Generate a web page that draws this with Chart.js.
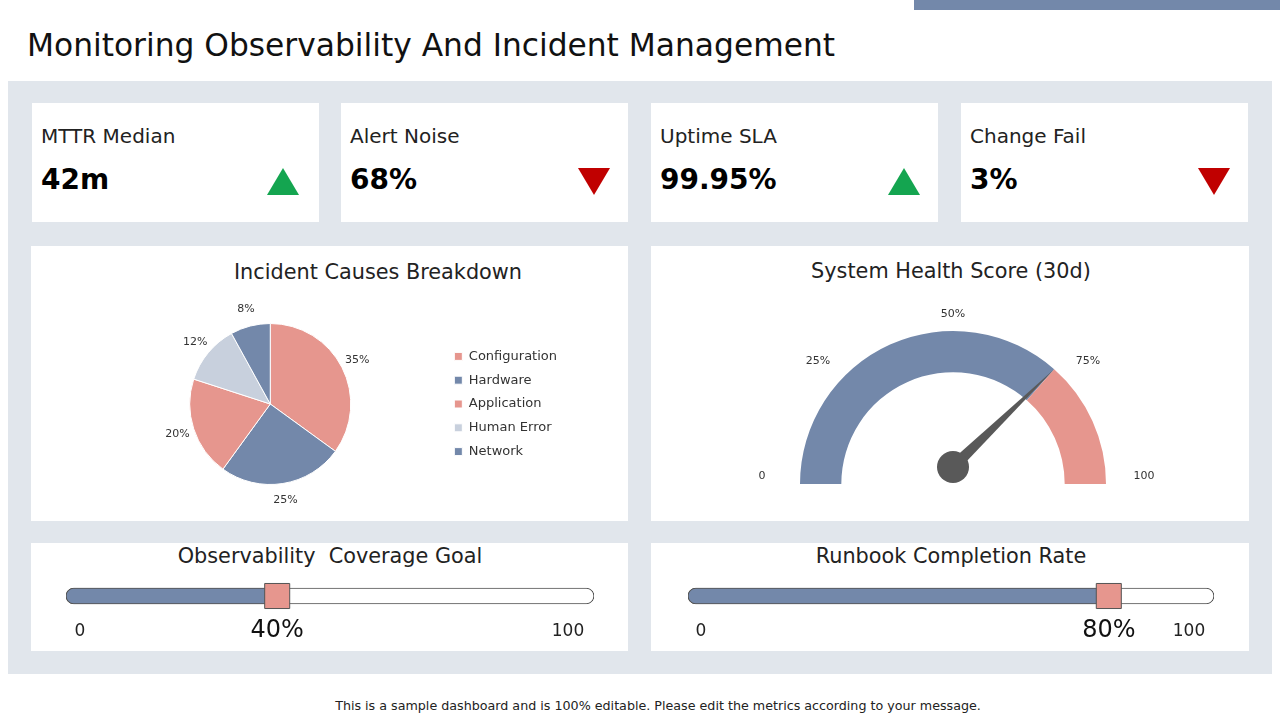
<!DOCTYPE html>
<html>
<head>
<meta charset="utf-8">
<script src="https://cdn.jsdelivr.net/npm/chart.js@4.4.0/dist/chart.umd.min.js"></script>
<style>
  body { margin: 0; width: 1280px; height: 720px; background: #fff; position: relative; overflow: hidden;
         font-family: "DejaVu Sans", sans-serif; color: #222; }
  .abs { position: absolute; }
  .panel { position: absolute; background: #fff; }
  .ptitle { position: absolute; font-size: 20.8px; line-height: 24px; white-space: nowrap; transform: translateX(-50%); color: #222; }
  .kl { position: absolute; font-size: 20px; line-height: 24px; white-space: nowrap; }
  .kv { position: absolute; font-size: 28px; line-height: 32px; font-weight: bold; color: #000; white-space: nowrap; }
  .tri { position: absolute; width: 32px; height: 27px; }
  .up { background: #14A550; clip-path: polygon(50% 0, 100% 100%, 0 100%); }
  .down { background: #C00000; clip-path: polygon(0 0, 100% 0, 50% 100%); }
  .end { position: absolute; font-size: 17px; line-height: 20px; transform: translateX(-50%); color: #222; }
</style>
</head>
<body>
<div class="abs" style="left:914px;top:0;width:366px;height:10px;background:#7388AA"></div>
<div class="abs" id="title" style="left:27px;top:26px;font-size:31.3px;line-height:38px;white-space:nowrap;color:#111">Monitoring Observability And Incident Management</div>
<div class="abs" style="left:8px;top:81px;width:1264px;height:593px;background:#E1E6EC"></div>

<div id="cards"></div>

<div class="panel" style="left:31px;top:246px;width:597px;height:275px"></div>
<div class="panel" style="left:651px;top:246px;width:598px;height:275px"></div>
<div class="panel" style="left:31px;top:543px;width:597px;height:108px"></div>
<div class="panel" style="left:651px;top:543px;width:598px;height:108px"></div>

<div class="ptitle" style="left:378px;top:260px">Incident Causes Breakdown</div>
<div class="ptitle" style="left:951px;top:259px">System Health Score (30d)</div>
<div class="ptitle" id="pt0" style="left:330px;top:544px"></div>
<div class="ptitle" id="pt1" style="left:951px;top:544px"></div>

<div class="abs" style="left:40px;top:291px;width:560px;height:226px"><canvas id="pie"></canvas></div>
<div class="abs" style="left:651px;top:290px;width:598px;height:231px"><canvas id="gauge"></canvas></div>
<div class="abs" style="left:56px;top:570px;width:548px;height:80px"><canvas id="prog0"></canvas></div>
<div class="abs" style="left:678px;top:570px;width:546px;height:80px"><canvas id="prog1"></canvas></div>

<div class="end" style="left:80px;top:620px">0</div>
<div class="end" style="left:568px;top:620px">100</div>
<div class="end" style="left:701px;top:620px">0</div>
<div class="end" style="left:1189px;top:620px">100</div>

<div class="abs" style="left:0;width:1280px;top:697px;text-align:center;font-size:12.7px;line-height:17px;color:#222;padding-left:36px;box-sizing:border-box">This is a sample dashboard and is 100% editable. Please edit the metrics according to your message.</div>

<script>
const kpiLabels = ["MTTR Median", "Alert Noise", "Uptime SLA", "Change Fail"];
const kpiValues = ["42m", "68%", "99.95%", "3%"];
const kpiTrend = ["up", "down", "up", "down"];

const causeLabels = ["Configuration", "Hardware", "Application", "Human Error", "Network"];
const causeShares = [35, 25, 20, 12, 8];

const healthScore = 73;
const gaugeTicks = ["0", "25%", "50%", "75%", "100"];

const progressTitles = ["Observability  Coverage Goal", "Runbook Completion Rate"];
const progressValues = [40, 80];

const blue = "#7388AA";
const pink = "#E6968E";
const light = "#C8D0DD";

Chart.defaults.font.family = "'DejaVu Sans', sans-serif";
Chart.defaults.animation = false;

// kpi cards
const cardLeft = [32, 341, 651, 961];
const cards = document.getElementById("cards");
kpiLabels.forEach((lab, i) => {
  const x = cardLeft[i];
  cards.innerHTML +=
    `<div class="panel" style="left:${x}px;top:103px;width:287px;height:119px"></div>` +
    `<div class="kl" style="left:${x + 9}px;top:124px">${lab}</div>` +
    `<div class="kv" style="left:${x + 9}px;top:164px">${kpiValues[i]}</div>` +
    `<div class="tri ${kpiTrend[i]}" style="left:${x + (i ? 237 : 235)}px;top:168px"></div>`;
});

// pie with outside labels
const pieLabels = {
  id: "pieLabels",
  afterDatasetsDraw(chart) {
    const ctx = chart.ctx;
    ctx.save();
    ctx.font = "11px 'DejaVu Sans'";
    ctx.fillStyle = "#333";
    ctx.textAlign = "center";
    ctx.textBaseline = "middle";
    chart.getDatasetMeta(0).data.forEach((arc, i) => {
      const p = arc.getProps(["x", "y", "startAngle", "endAngle", "outerRadius"], true);
      const a = (p.startAngle + p.endAngle) / 2;
      const r = p.outerRadius + 17;
      ctx.fillText(chart.data.datasets[0].data[i] + "%", p.x + Math.cos(a) * r, p.y + Math.sin(a) * r);
    });
    ctx.restore();
  }
};

new Chart(document.getElementById("pie"), {
  type: "pie",
  data: {
    labels: causeLabels,
    datasets: [{
      data: causeShares,
      backgroundColor: [pink, blue, pink, light, blue],
      borderColor: "#fff",
      borderWidth: 1
    }]
  },
  options: {
    responsive: true,
    maintainAspectRatio: false,
    layout: { padding: { left: 57, right: 33, top: 32, bottom: 32 } },
    plugins: {
      legend: {
        position: "right",
        labels: { boxWidth: 8, boxHeight: 8, padding: 10.8, color: "#333", font: { size: 13 } }
      },
      tooltip: { enabled: false }
    }
  },
  plugins: [pieLabels]
});

// gauge
const gaugeNeedle = {
  id: "gaugeNeedle",
  afterDatasetsDraw(chart) {
    const ctx = chart.ctx;
    const arc = chart.getDatasetMeta(0).data[0];
    const { x, y, outerRadius } = arc.getProps(["x", "y", "outerRadius"], true);
    const data = chart.data.datasets[0].data;
    const total = data.reduce((a, b) => a + b, 0);
    const ang = Math.PI + Math.PI * data[0] / total;
    const tx = x + Math.cos(ang) * outerRadius, ty = y + Math.sin(ang) * outerRadius;
    const hx = x, hy = y - 17;
    const d = Math.atan2(ty - hy, tx - hx);
    ctx.save();
    ctx.fillStyle = "#595959";
    ctx.beginPath();
    ctx.moveTo(hx + Math.cos(d + Math.PI / 2) * 6, hy + Math.sin(d + Math.PI / 2) * 6);
    ctx.lineTo(tx, ty);
    ctx.lineTo(hx + Math.cos(d - Math.PI / 2) * 6, hy + Math.sin(d - Math.PI / 2) * 6);
    ctx.closePath();
    ctx.fill();
    ctx.beginPath();
    ctx.arc(hx, hy, 16, 0, Math.PI * 2);
    ctx.fill();
    // scale labels
    ctx.font = "11px 'DejaVu Sans'";
    ctx.fillStyle = "#333";
    ctx.textAlign = "center";
    ctx.textBaseline = "middle";
    gaugeTicks.forEach((t, i) => {
      const a = Math.PI + Math.PI * i / (gaugeTicks.length - 1);
      ctx.fillText(t, x + Math.cos(a) * (outerRadius + 38), y - 8 + Math.sin(a) * (outerRadius + 9));
    });
    ctx.restore();
  }
};

new Chart(document.getElementById("gauge"), {
  type: "doughnut",
  data: {
    labels: ["Score", "Rest"],
    datasets: [{
      data: [healthScore, 100 - healthScore],
      backgroundColor: [blue, pink],
      borderWidth: 0
    }]
  },
  options: {
    responsive: true,
    maintainAspectRatio: false,
    circumference: 180,
    rotation: -90,
    cutout: "73%",
    layout: { padding: { left: 149, right: 143, top: 41, bottom: 37 } },
    plugins: { legend: { display: false }, tooltip: { enabled: false } }
  },
  plugins: [gaugeNeedle]
});

// progress sliders
const valueLabel = {
  id: "valueLabel",
  afterDraw(chart) {
    const ctx = chart.ctx;
    const v = chart.data.datasets[2].data[0].x;
    const px = chart.scales.x.getPixelForValue(v);
    const py = chart.scales.y.getPixelForValue(0);
    ctx.save();
    ctx.font = "24px 'DejaVu Sans'";
    ctx.fillStyle = "#111";
    ctx.textAlign = "center";
    ctx.textBaseline = "middle";
    ctx.fillText(v + "%", px, py + 35);
    ctx.restore();
  }
};

progressValues.forEach((v, i) => {
  document.getElementById("pt" + i).textContent = progressTitles[i];
  document.getElementById("pt" + i).style.whiteSpace = "pre";
  new Chart(document.getElementById("prog" + i), {
    type: "bar",
    data: {
      labels: ["p"],
      datasets: [
        { data: [[0, v]], backgroundColor: blue, borderColor: "#555", borderWidth: 1,
          borderRadius: 8, borderSkipped: false, barThickness: 16, grouped: false, order: 1 },
        { data: [[0, 100]], backgroundColor: "#fff", borderColor: "#555", borderWidth: 1,
          borderRadius: 8, borderSkipped: false, barThickness: 16, grouped: false, order: 2 },
        { type: "line", data: [{ x: v, y: "p" }], showLine: false, pointStyle: "rect",
          pointRadius: 17.7, backgroundColor: pink, borderColor: "#555", borderWidth: 1, order: 0, clip: false }
      ]
    },
    options: {
      indexAxis: "y",
      responsive: true,
      maintainAspectRatio: false,
      layout: { autoPadding: false, padding: { left: 10, right: 10, top: 0, bottom: 28 } },
      scales: {
        x: { min: 0, max: 100, display: false },
        y: { display: false }
      },
      plugins: { legend: { display: false }, tooltip: { enabled: false } }
    },
    plugins: [valueLabel]
  });
});
</script>
</body>
</html>
